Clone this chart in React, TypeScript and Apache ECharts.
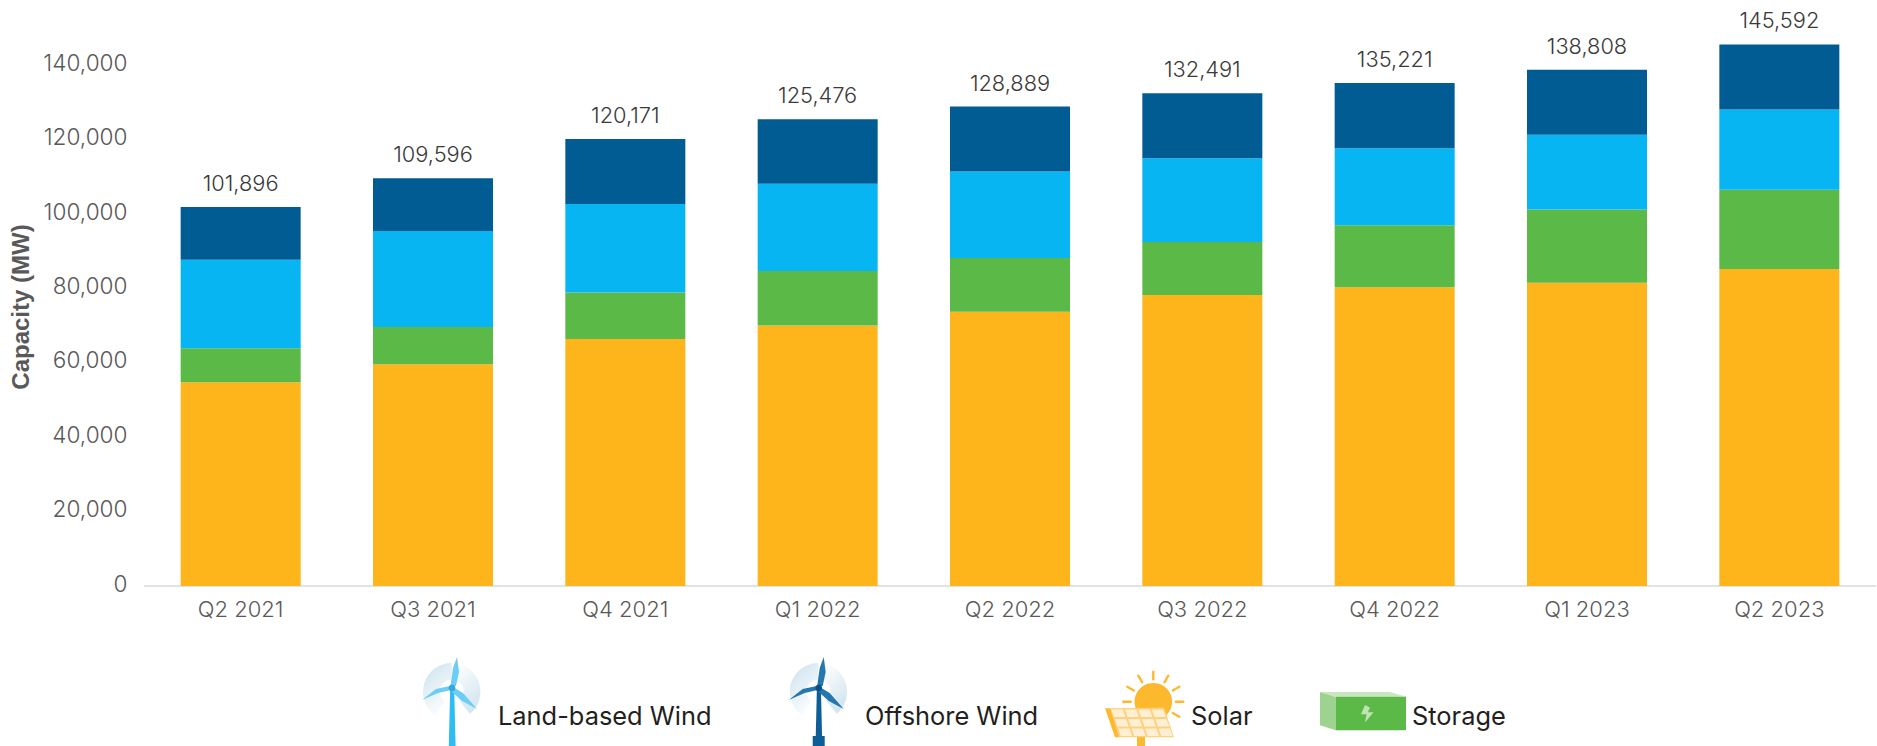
import React, { useEffect, useRef } from "react";
import * as echarts from "echarts";

const categories = ["Q2 2021", "Q3 2021", "Q4 2021", "Q1 2022", "Q2 2022", "Q3 2022", "Q4 2022", "Q1 2023", "Q2 2023"];
const totals = [101896, 109596, 120171, 125476, 128889, 132491, 135221, 138808, 145592];
const solar = [54800, 59600, 66400, 70000, 73700, 78200, 80300, 81500, 85200];
const storage = [9100, 10000, 12500, 14700, 14500, 14300, 16700, 19700, 21300];
const landWind = [23800, 25800, 23800, 23400, 23200, 22500, 20700, 20100, 21600];
const offshoreWind = [14196, 14196, 17471, 17376, 17489, 17491, 17521, 17508, 17492];
const yTicks = [0, 20000, 40000, 60000, 80000, 100000, 120000, 140000];
const legendLabels = ["Land-based Wind", "Offshore Wind", "Solar", "Storage"];

const FONT = "Inter";
const fmt = (v: number) => v.toLocaleString("en-US");

function turbine(dx: number, blade: string, mast: string, hub: string, base: boolean) {
  const children: any[] = [
    {
      type: "sector",
      shape: { cx: 451.7, cy: 691.7, r: 28.7, r0: 12, startAngle: (125 * Math.PI) / 180, endAngle: (270 * Math.PI) / 180 },
      style: { fill: new echarts.graphic.LinearGradient(0.2, 0, 0.7, 1, [{ offset: 0, color: "#cfe4ef" }, { offset: 1, color: "#ffffff" }]) },
    },
    {
      type: "sector",
      shape: { cx: 451.7, cy: 691.7, r: 28.7, r0: 12, startAngle: (-85 * Math.PI) / 180, endAngle: (50 * Math.PI) / 180 },
      style: { fill: new echarts.graphic.LinearGradient(0.7, 1, 0.2, 0, [{ offset: 0, color: "#d0e4ee" }, { offset: 1, color: "#ffffff" }]) },
    },
    { type: "polygon", shape: { points: [[450.2, 688], [451.5, 688], [453, 688], [454.2, 688], [455.6, 746], [448.8, 746]] }, style: { fill: mast } },
    { type: "polygon", shape: { points: [[450.5, 686], [453, 668], [457, 657], [459, 672], [456, 686]] }, style: { fill: blade } },
    { type: "polygon", shape: { points: [[422, 700], [436, 689], [450, 686], [451, 690], [438, 693]] }, style: { fill: blade } },
    { type: "polygon", shape: { points: [[453, 687], [463, 693], [477, 709], [462, 701], [451, 691]] }, style: { fill: blade } },
    { type: "circle", shape: { cx: 452, cy: 688, r: 3.4 }, style: { fill: hub } },
  ];
  if (base) children.push({ type: "rect", shape: { x: 446, y: 736, width: 12, height: 10 }, style: { fill: mast } });
  return { type: "group", x: dx, y: 0, children };
}

function solarIcon() {
  const cx = 1153.3, cy = 701.7;
  const rays = [0, 30, 60, 90, 120, 150, 180, -30].map((deg) => {
    const a = (deg * Math.PI) / 180;
    return {
      type: "line",
      shape: { x1: cx + 22.5 * Math.cos(a), y1: cy - 22.5 * Math.sin(a), x2: cx + 30 * Math.cos(a), y2: cy - 30 * Math.sin(a) },
      style: { stroke: "#fdb92e", lineWidth: 2.4, lineCap: "round" },
    };
  });
  const px = (u: number, v: number) => [1110 + 54 * u + 10 * v, 708.5 + 28.5 * v];
  const cells: any[] = [];
  for (let c = 0; c < 4; c++) {
    for (let r = 0; r < 3; r++) {
      const u0 = (c + 0.08) / 4, u1 = (c + 0.92) / 4, v0 = (r + 0.1) / 3, v1 = (r + 0.9) / 3;
      cells.push({
        type: "polygon",
        shape: { points: [px(u0, v0), px(u1, v0), px(u1, v1), px(u0, v1)] },
        style: { fill: "#fff0d3" },
      });
    }
  }
  return {
    type: "group",
    children: [
      { type: "circle", shape: { cx, cy, r: 18.8 }, style: { fill: "#fdb92e" } },
      ...rays,
      { type: "rect", shape: { x: 1137, y: 737, width: 8, height: 9 }, style: { fill: "#fdb92e" } },
      { type: "polygon", shape: { points: [[1105, 708.3], [1110.5, 708.3], [1120, 737.3], [1115, 737.3]] }, style: { fill: "#fdb92e" } },
      { type: "polygon", shape: { points: [[1110, 708.3], [1164, 707.7], [1174, 737.3], [1119, 737.3]] }, style: { fill: "#fed07f" } },
      ...cells,
    ],
  };
}

function storageIcon() {
  return {
    type: "group",
    children: [
      { type: "polygon", shape: { points: [[1320, 692], [1335.7, 696.7], [1335.7, 730.3], [1320, 725.3]] }, style: { fill: "#9dd291" } },
      { type: "polygon", shape: { points: [[1320, 692], [1390, 692], [1406, 696.7], [1335.7, 696.7]] }, style: { fill: "#c9e6c1" } },
      { type: "rect", shape: { x: 1335.7, y: 696.7, width: 70.3, height: 33.6 }, style: { fill: "#5ab947" } },
      {
        type: "polygon",
        shape: { points: [[1365, 705], [1361, 714.2], [1366.5, 714.2], [1365, 722.5], [1373.5, 712.2], [1367.8, 712.2], [1370, 707.5]] },
        style: { fill: "#bfe3b4" },
      },
    ],
  };
}

const legendX = [498, 865, 1191, 1412];

function legendText() {
  return legendLabels.map((t, i) => ({
    type: "text",
    x: legendX[i],
    y: 715,
    style: { text: t, fontFamily: FONT, fontSize: 25.4, fontWeight: 400, fill: "#231f20", textAlign: "left", textVerticalAlign: "middle" },
  }));
}

export default function App() {
  const ref = useRef<HTMLDivElement>(null);
  useEffect(() => {
    const chart = echarts.init(ref.current!, undefined, { renderer: "svg" });
    const bar = (name: string, data: number[], color: string, extra: any = {}) => ({
      name,
      type: "bar",
      stack: "total",
      data,
      barWidth: 120,
      itemStyle: { color },
      ...extra,
    });
    chart.setOption({
      animation: false,
      backgroundColor: "#ffffff",
      textStyle: { fontFamily: FONT },
      grid: { left: 144.5, right: 1.5, top: 28, height: 558, containLabel: false, outerBoundsMode: "none" },
      xAxis: {
        type: "category",
        data: categories,
        axisLine: { lineStyle: { color: "#d9d9d9", width: 1.5 } },
        axisTick: { show: false },
        axisLabel: { color: "#595959", fontSize: 22, fontFamily: FONT, fontWeight: 300, margin: 12 },
      },
      yAxis: {
        type: "value",
        min: 0,
        max: 150000,
        interval: 20000,
        name: "Capacity (MW)",
        nameLocation: "middle",
        nameGap: 112,
        nameRotate: 90,
        nameTextStyle: { fontFamily: "Liberation Sans", fontWeight: "bold", fontSize: 24, color: "#595959" },
        splitLine: { show: false },
        axisLine: { show: false },
        axisTick: { show: false },
        axisLabel: {
          color: "#595959",
          fontSize: 22.6,
          fontFamily: FONT,
          fontWeight: 300,
          margin: 17,
          verticalAlign: "bottom",
          lineHeight: 6,
          showMaxLabel: false,
          formatter: (v: number) => (yTicks.includes(v) ? fmt(v) : ""),
        },
      },
      series: [
        bar("Solar", solar, "#feb51c"),
        bar("Storage", storage, "#5ab947"),
        bar("Land-based Wind", landWind, "#06b5f1"),
        bar("Offshore Wind", offshoreWind, "#025c94", {
          label: {
            show: true,
            position: "top",
            distance: 13,
            color: "#3a3a3a",
            fontSize: 21.8,
            fontWeight: 300,
            fontFamily: FONT,
            formatter: (p: any) => fmt(totals[p.dataIndex]),
          },
        }),
      ],
      graphic: {
        elements: [
          turbine(0, "#6ccdf6", "#2dbdf2", "#2fa9df", false),
          turbine(366.7, "#2478ad", "#0d5d97", "#0b4f85", true),
          solarIcon(),
          storageIcon(),
          ...legendText(),
        ],
      },
    });
    return () => chart.dispose();
  }, []);
  return <div ref={ref} style={{ position: "fixed", left: 0, top: 0, width: 1877, height: 746 }} />;
}
